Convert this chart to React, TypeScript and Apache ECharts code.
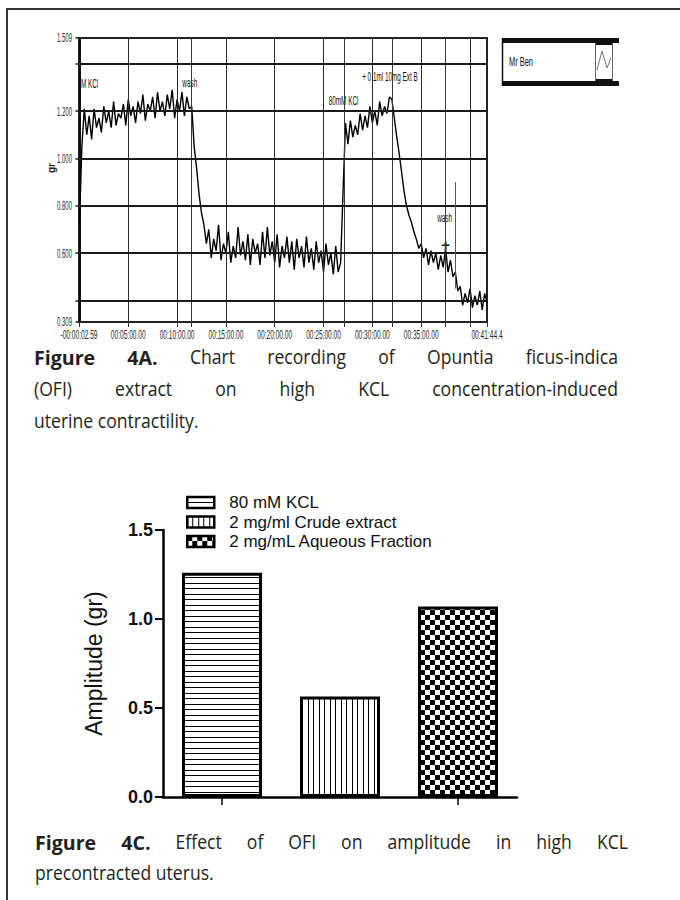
import React, { useEffect, useRef } from "react";
import * as echarts from "echarts";

// ---------- Figure 4A: tension recording (time in minutes, force in grams) ----------
const TIME_MIN = -2.59 / 60;
const TIME_MAX = 41 + 44.4 / 60;
const TRACE_STEP_MIN = 0.25;
const TRACE_GR = [
  0.72, 1.05, 1.21, 1.1, 1.18, 1.08, 1.21, 1.13, 1.17, 1.11,
  1.22, 1.15, 1.2, 1.13, 1.24, 1.14, 1.19, 1.17, 1.23, 1.14,
  1.25, 1.18, 1.22, 1.15, 1.24, 1.19, 1.27, 1.16, 1.23, 1.2,
  1.26, 1.17, 1.28, 1.2, 1.24, 1.18, 1.27, 1.21, 1.29, 1.17,
  1.25, 1.2, 1.28, 1.18, 1.26, 1.21, 1.22, 1.05, 0.96, 0.85,
  0.77, 0.72, 0.64, 0.7, 0.58, 0.66, 0.61, 0.72, 0.57, 0.64,
  0.6, 0.69, 0.56, 0.63, 0.58, 0.71, 0.59, 0.65, 0.57, 0.68,
  0.55, 0.66, 0.6, 0.64, 0.55, 0.69, 0.58, 0.71, 0.59, 0.65,
  0.56, 0.68, 0.54, 0.63, 0.58, 0.67, 0.56, 0.65, 0.53, 0.66,
  0.58, 0.63, 0.54, 0.67, 0.56, 0.62, 0.53, 0.65, 0.56, 0.61,
  0.52, 0.64, 0.55, 0.6, 0.51, 0.63, 0.52, 0.56, 0.86, 1.15,
  1.06, 1.16, 1.09, 1.14, 1.1, 1.19, 1.12, 1.18, 1.13, 1.22,
  1.15, 1.2, 1.14, 1.24, 1.18, 1.22, 1.19, 1.26, 1.25, 1.17,
  1.09, 1.02, 0.94, 0.86, 0.8, 0.76, 0.73, 0.69, 0.66, 0.62,
  0.64, 0.58, 0.62, 0.55, 0.61, 0.56, 0.6, 0.53, 0.59, 0.54,
  0.62, 0.52, 0.57, 0.5, 0.52, 0.44, 0.46, 0.38, 0.43, 0.39,
  0.45, 0.37, 0.42, 0.38, 0.44, 0.36, 0.43, 0.39,
];
const GRID_MINUTES = [5, 10, 15, 20, 25, 30, 35, 40];
const EVENT_MINUTES = [11.49, 27.1, 32.0, 37.5];
const WASH_MARK_MINUTE = 38.53;
const X_TICK_VALUES = [TIME_MIN, 5, 10, 15, 20, 25, 30, 35, TIME_MAX];
const X_TICK_LABELS = [
  "-00:00:02.59", "00:05:00.00", "00:10:00.00", "00:15:00.00", "00:20:00.00",
  "00:25:00.00", "00:30:00.00", "00:35:00.00", "00:41:44.4",
];
const Y_MIN = 0.309;
const Y_MAX = 1.509;
const Y_GRID = [0.4, 0.6, 0.8, 1.0, 1.2, 1.4];
const Y_LABEL_VALUES = [1.509, 1.2, 1.0, 0.8, 0.6, 0.309];
const Y_LABELS = ["1.509", "1.200", "1.000", "0.800", "0.600", "0.309"];
const NOTE_TEXT = ["M KCl", "wash", "80mM KCl", "+ 0.1ml 10mg Ext B", "wash", "+"];
const NOTE_MINUTE = [0.16, 11.3, 27.05, 31.8, 37.4, 37.5];
const NOTE_GR = [1.318, 1.322, 1.246, 1.344, 0.748, 0.638];
const NOTE_ALIGN = ["left", "center", "center", "center", "center", "center"];

// ---------- Figure 4C: amplitude bars ----------
const TREATMENTS = ["80 mM KCL", "2 mg/ml Crude extract", "2 mg/mL Aqueous Fraction"];
const AMPLITUDE_GR = [1.26, 0.565, 1.07];

// ---------- captions ----------
const CAPTION_4A = [
  "Figure 4A. Chart recording of Opuntia ficus-indica",
  "(OFI) extract on high KCL concentration-induced",
  "uterine contractility.",
];
const CAPTION_4C = [
  "Figure 4C. Effect of OFI on amplitude in high KCL",
  "precontracted uterus.",
];
const BOLD_WORDS = new Set(["Figure", "4A.", "4C."]);

const ARIAL = "'Liberation Sans', Arial, sans-serif";
const CAPTION_FONT = "'Open Sans', sans-serif";
const CAPTION_SIZE = 20;
const CAPTION_SCALE = 0.88;
const CAPTION_BOLD_SCALE = 0.98;
const CAPTION_COLOR = "#231f20";

function makePattern(kind: "h" | "v" | "c") {
  const c = document.createElement("canvas");
  const s = kind === "c" ? 10 : 11;
  c.width = s;
  c.height = s;
  const g = c.getContext("2d")!;
  g.fillStyle = "#ffffff";
  g.fillRect(0, 0, s, s);
  g.fillStyle = "#000000";
  if (kind === "h") {
    g.fillRect(0, 0, s, 1);
    g.fillRect(0, 5, s, 1);
  } else if (kind === "v") {
    g.fillRect(0, 0, 1, s);
    g.fillRect(5, 0, 1, s);
  } else {
    g.fillRect(0, 0, 5, 5);
    g.fillRect(5, 5, 5, 5);
  }
  return { image: c, repeat: "repeat" };
}

function buildOption() {
  const traceData = TRACE_GR.map((v, i) => [i * TRACE_STEP_MIN, v]);
  const gridLines: any[] = [
    ...GRID_MINUTES.map((m) => ({ xAxis: m, lineStyle: { color: "#2a2a2a", width: 1, type: "solid" } })),
    ...EVENT_MINUTES.map((m) => ({ xAxis: m, lineStyle: { color: "#3a3a3a", width: 1, type: "solid" } })),
    ...Y_GRID.map((v) => ({ yAxis: v, lineStyle: { color: "#1a1a1a", width: 2, type: "solid" } })),
    [
      { coord: [WASH_MARK_MINUTE, 0.9], lineStyle: { color: "#555", width: 1, type: "solid" } },
      { coord: [WASH_MARK_MINUTE, 0.45] },
    ],
  ];
  const patterns = [makePattern("h"), makePattern("v"), makePattern("c")];

  return {
    animation: false,
    grid: [
      { left: 79, top: 38, width: 408, height: 284, show: true, borderColor: "#222", borderWidth: 2 },
      { left: 163, top: 530, width: 354, height: 267 },
    ],
    xAxis: [
      {
        gridIndex: 0,
        type: "value",
        min: TIME_MIN,
        max: TIME_MAX,
        axisLine: { show: false },
        splitLine: { show: false },
        axisLabel: { show: false },
        axisTick: {
          show: true,
          customValues: [...X_TICK_VALUES, ...EVENT_MINUTES, 40],
          length: 5,
          lineStyle: { color: "#333", width: 1 },
        },
      },
      {
        gridIndex: 1,
        type: "category",
        data: TREATMENTS,
        axisLine: { show: true, lineStyle: { color: "#000", width: 2.5 } },
        axisTick: { show: true, alignWithLabel: true, length: 8, lineStyle: { color: "#000", width: 1.5 } },
        axisLabel: { show: false },
        splitLine: { show: false },
      },
    ],
    yAxis: [
      {
        gridIndex: 0,
        type: "value",
        min: Y_MIN,
        max: Y_MAX,
        axisLine: { show: true, lineStyle: { color: "#111", width: 2 } },
        axisTick: {
          show: true,
          customValues: [Y_MIN, ...Y_GRID, Y_MAX],
          length: 4,
          lineStyle: { color: "#222", width: 1.5 },
        },
        axisLabel: { show: false },
        splitLine: { show: false },
      },
      {
        gridIndex: 1,
        type: "value",
        min: 0,
        max: 1.5,
        interval: 0.5,
        name: "Amplitude (gr)",
        nameLocation: "middle",
        nameGap: 58,
        nameTextStyle: { fontFamily: ARIAL, fontSize: 23, color: "#111" },
        axisLine: { show: true, lineStyle: { color: "#000", width: 2.5 } },
        axisTick: { show: true, length: 8, lineStyle: { color: "#000", width: 2 } },
        axisLabel: {
          fontFamily: ARIAL,
          fontWeight: "bold",
          fontSize: 18,
          color: "#111",
          margin: 10,
          formatter: (v: number) => v.toFixed(1),
        },
        splitLine: { show: false },
      },
    ],
    legend: {
      data: TREATMENTS,
      orient: "vertical",
      left: 181,
      top: 489,
      itemWidth: 27,
      itemHeight: 11,
      itemGap: 2.5,
      icon: "rect",
      selectedMode: false,
      itemStyle: { borderColor: "#000", borderWidth: 2.5 },
      textStyle: { fontFamily: ARIAL, fontSize: 17, color: "#111", padding: [0, 0, 0, 10] },
    },
    series: [
      {
        type: "line",
        xAxisIndex: 0,
        yAxisIndex: 0,
        data: traceData,
        showSymbol: false,
        symbol: "none",
        clip: true,
        lineStyle: { color: "#000", width: 1.4 },
        markLine: {
          silent: true,
          symbol: ["none", "none"],
          label: { show: false },
          data: gridLines,
        },
      },
      ...TREATMENTS.map((name, k) => ({
        type: "bar",
        name,
        xAxisIndex: 1,
        yAxisIndex: 1,
        barWidth: 80,
        barGap: "-100%",
        data: AMPLITUDE_GR.map((v, j) => (j === k ? v : "-")),
        itemStyle: { color: patterns[k], borderColor: "#000", borderWidth: 3 },
      })),
    ],
  };
}

function text(
  str: string,
  x: number,
  y: number,
  align: string,
  opts: { size?: number; family?: string; weight?: string; color?: string; scaleX?: number; rotation?: number } = {}
) {
  return {
    type: "text",
    x,
    y,
    scaleX: opts.scaleX ?? 1,
    rotation: opts.rotation ?? 0,
    silent: true,
    style: {
      text: str,
      fontFamily: opts.family ?? ARIAL,
      fontSize: opts.size ?? 12,
      fontWeight: opts.weight ?? "normal",
      fill: opts.color ?? "#222",
      align,
      textAlign: align,
      verticalAlign: "middle",
      textVerticalAlign: "middle",
    },
  };
}

const measureCtx = document.createElement("canvas").getContext("2d")!;
function captionWidth(s: string, bold: boolean) {
  measureCtx.font = `${bold ? 700 : 400} ${CAPTION_SIZE}px 'Open Sans'`;
  return measureCtx.measureText(s).width * (bold ? CAPTION_BOLD_SCALE : CAPTION_SCALE);
}

function captionLine(line: string, x0: number, x1: number, y: number, justify: boolean) {
  const words = line.split(" ");
  if (!justify) {
    return [text(line, x0, y, "left", { size: CAPTION_SIZE, family: CAPTION_FONT, color: CAPTION_COLOR, scaleX: CAPTION_SCALE })];
  }
  const widths = words.map((w) => captionWidth(w, BOLD_WORDS.has(w)));
  const total = widths.reduce((a, b) => a + b, 0);
  const gap = (x1 - x0 - total) / (words.length - 1);
  let x = x0;
  return words.map((w, i) => {
    const bold = BOLD_WORDS.has(w);
    const el = text(w, x, y, "left", {
      size: CAPTION_SIZE,
      family: CAPTION_FONT,
      weight: bold ? "bold" : "normal",
      color: CAPTION_COLOR,
      scaleX: bold ? CAPTION_BOLD_SCALE : CAPTION_SCALE,
    });
    x += widths[i] + gap;
    return el;
  });
}

function buildGraphics(chart: echarts.ECharts) {
  const px = (t: number) => chart.convertToPixel({ xAxisIndex: 0 }, t) as number;
  const py = (v: number) => chart.convertToPixel({ yAxisIndex: 0 }, v) as number;
  const els: any[] = [];

  // page frame
  els.push({ type: "line", silent: true, shape: { x1: 6, y1: 9, x2: 680, y2: 9 }, style: { stroke: "#333", lineWidth: 2 } });
  els.push({ type: "line", silent: true, shape: { x1: 7, y1: 8, x2: 7, y2: 900 }, style: { stroke: "#333", lineWidth: 2 } });

  // recorder tick labels
  X_TICK_VALUES.forEach((v, i) => els.push(text(X_TICK_LABELS[i], px(v), 335, "center", { size: 12, scaleX: 0.55, color: "#2a2a2a" })));
  Y_LABEL_VALUES.forEach((v, i) => els.push(text(Y_LABELS[i], 72, py(v), "right", { size: 12, scaleX: 0.5, color: "#2a2a2a" })));
  els.push(text("gr", 51, 168, "center", { size: 10, weight: "bold", rotation: Math.PI / 2, color: "#222" }));

  // event annotations on the trace
  NOTE_TEXT.forEach((t, i) =>
    els.push(
      text(t, px(NOTE_MINUTE[i]), py(NOTE_GR[i]), NOTE_ALIGN[i], {
        size: t === "+" ? 15 : 12,
        weight: t === "+" ? "bold" : "normal",
        scaleX: t === "+" ? 1 : 0.53,
        color: "#111",
      })
    )
  );

  // channel box
  els.push({ type: "rect", silent: true, shape: { x: 502, y: 38, width: 117, height: 5 }, style: { fill: "#111" } });
  els.push({ type: "rect", silent: true, shape: { x: 502, y: 81, width: 117, height: 5 }, style: { fill: "#111" } });
  els.push({ type: "line", silent: true, shape: { x1: 502.5, y1: 38, x2: 502.5, y2: 86 }, style: { stroke: "#111", lineWidth: 1.5 } });
  els.push({ type: "rect", silent: true, shape: { x: 595, y: 38, width: 18, height: 7 }, style: { fill: "#111" } });
  els.push({ type: "rect", silent: true, shape: { x: 595, y: 79, width: 18, height: 7 }, style: { fill: "#111" } });
  els.push({ type: "line", silent: true, shape: { x1: 595.5, y1: 43, x2: 595.5, y2: 81 }, style: { stroke: "#666", lineWidth: 1 } });
  els.push({ type: "line", silent: true, shape: { x1: 612.5, y1: 43, x2: 612.5, y2: 81 }, style: { stroke: "#666", lineWidth: 1 } });
  els.push({
    type: "polyline",
    silent: true,
    shape: { points: [[597, 70], [602, 51], [607, 68], [611, 58]] },
    style: { stroke: "#777", lineWidth: 1, fill: "none" },
  });
  els.push(text("Mr Ben", 509, 62, "left", { size: 12, scaleX: 0.62, color: "#111" }));

  // captions
  CAPTION_4A.forEach((line, i) => els.push(...captionLine(line, 34, 618, 357 + i * 32, i < CAPTION_4A.length - 1)));
  CAPTION_4C.forEach((line, i) => els.push(...captionLine(line, 35, 628, 842 + i * 31, i < CAPTION_4C.length - 1)));

  return els;
}

export default function App() {
  const ref = useRef<HTMLDivElement>(null);
  useEffect(() => {
    const el = ref.current!;
    const chart = echarts.init(el, null, { renderer: "svg" });
    chart.setOption(buildOption() as any);
    chart.setOption({ graphic: buildGraphics(chart) } as any);
    return () => chart.dispose();
  }, []);
  return (
    <div
      ref={ref}
      style={{ position: "fixed", left: 0, top: 0, width: 680, height: 900, background: "#ffffff" }}
    />
  );
}
